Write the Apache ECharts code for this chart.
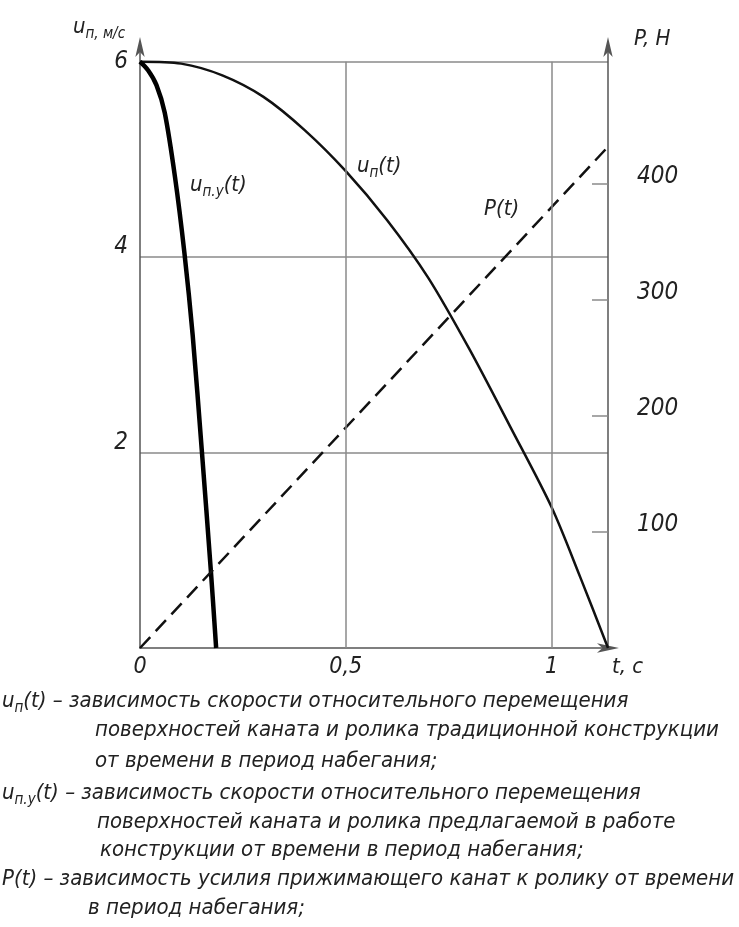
<!DOCTYPE html>
<html>
<head>
<meta charset="utf-8">
<script src="https://cdn.jsdelivr.net/npm/echarts@6/dist/echarts.min.js"></script>
<style>
  html, body { margin: 0; padding: 0; background: #fff; }
  #main { width: 739px; height: 927px; }
</style>
</head>
<body>
<div id="main"></div>
<script>
// данные
var tEnd = 1.137;
var unPoints = [
  [0, 6], [0.1, 5.98], [0.2, 5.86], [0.3, 5.64], [0.4, 5.3], [0.5, 4.88],
  [0.6, 4.38], [0.7, 3.79], [0.8, 3.06], [0.9, 2.26], [1.0, 1.44], [1.07, 0.72], [1.137, 0]
];
var unyPoints = [
  [0, 6], [0.02, 5.91], [0.04, 5.76], [0.06, 5.48], [0.085, 4.82],
  [0.108, 4.04], [0.128, 3.2], [0.15, 2.03], [0.172, 0.8], [0.185, 0]
];
var pPoints = [[0, 0], [1.137, 432]];
var xLabels = [0, 0.5, 1];
var uLabels = [2, 4, 6];
var pLabels = [100, 200, 300, 400];
var vGrid = [0.5, 1];

var FONT = '"DejaVu Sans Condensed", "DejaVu Sans", sans-serif';
var FS = 22;
var INK = '#222';
var GRID = '#8a8a8a';

var rich = {
  m: { fontFamily: FONT, fontStyle: 'italic', fontSize: FS, color: INK, verticalAlign: 'top' },
  s: { fontFamily: FONT, fontStyle: 'italic', fontSize: 15, color: INK, verticalAlign: 'top', padding: [11, 0, 0, 0] }
};

function label(x, y, text) {
  return {
    type: 'text', left: x, top: y,
    style: { text: text, rich: rich, font: 'italic ' + FS + 'px ' + FONT, fill: INK }
  };
}

var notes = [
  [2, 690, '{m|u}{s|п}{m|(t) – зависимость скорости относительного перемещения}'],
  [95, 719, '{m|поверхностей каната и ролика традиционной конструкции}'],
  [95, 750, '{m|от времени в период набегания;}'],
  [2, 782, '{m|u}{s|п.у}{m|(t) – зависимость скорости относительного перемещения}'],
  [97, 811, '{m|поверхностей каната и ролика предлагаемой в работе}'],
  [100, 839, '{m|конструкции от времени в период набегания;}'],
  [2, 868, '{m|P(t) – зависимость усилия прижимающего канат к ролику от времени}'],
  [88, 897, '{m|в период набегания;}']
];

var chart = echarts.init(document.getElementById('main'));

var option = {
  backgroundColor: '#fff',
  animation: false,
  grid: { left: 140, right: 131, top: 47, bottom: 279 },
  xAxis: {
    type: 'value', min: 0, max: tEnd, interval: 0.5,
    axisLine: {
      show: true, symbol: ['none', 'arrow'], symbolSize: [7, 22], symbolOffset: [0, 11],
      lineStyle: { color: '#555', width: 1.5 }
    },
    axisTick: { show: false },
    splitLine: { show: false },
    axisLabel: {
      customValues: xLabels, margin: 8,
      fontFamily: FONT, fontStyle: 'italic', fontSize: 23, color: INK,
      formatter: function (v) { return String(v).replace('.', ','); }
    }
  },
  yAxis: [
    {
      type: 'value', min: 0, max: 6.15, interval: 2, position: 'left',
      axisLine: {
        show: true, symbol: ['none', 'arrow'], symbolSize: [7, 20], symbolOffset: [0, 10],
        lineStyle: { color: '#555', width: 1.5 }
      },
      axisTick: { show: false },
      splitLine: { show: true, showMinLine: false, showMaxLine: false, lineStyle: { color: GRID, width: 1.5 } },
      axisLabel: {
        customValues: uLabels, margin: 12,
        formatter: function (v) { return v === 6 ? '{a|6}' : '{b|' + v + '}'; },
        rich: {
          a: { fontFamily: FONT, fontStyle: 'italic', fontSize: 24, color: INK },
          b: { fontFamily: FONT, fontStyle: 'italic', fontSize: 24, color: INK, padding: [0, 0, 20, 0] }
        }
      }
    },
    {
      type: 'value', min: 0, max: 518, interval: 100, position: 'right',
      axisLine: {
        show: true, symbol: ['none', 'arrow'], symbolSize: [7, 20], symbolOffset: [0, 10],
        lineStyle: { color: '#555', width: 1.5 }
      },
      axisTick: { show: true, inside: true, length: 16, customValues: pLabels, lineStyle: { color: GRID, width: 1.5 } },
      splitLine: { show: false },
      axisLabel: {
        customValues: pLabels, margin: 29,
        formatter: function (v) { return '{b|' + v + '}'; },
        rich: {
          b: { fontFamily: FONT, fontStyle: 'italic', fontSize: 24, color: INK, padding: [0, 0, 15, 0] }
        }
      }
    }
  ],
  series: [
    {
      name: 'un', type: 'line', yAxisIndex: 0, data: unPoints,
      smooth: 0.3, showSymbol: false, silent: true,
      lineStyle: { color: '#111', width: 2.5 },
      markLine: {
        silent: true, symbol: 'none', label: { show: false },
        lineStyle: { color: GRID, width: 1.5, type: 'solid' },
        data: vGrid.map(function (t) { return [{ coord: [t, 0] }, { coord: [t, 6] }]; })
      },
      z: 3
    },
    {
      name: 'uny', type: 'line', yAxisIndex: 0, data: unyPoints,
      smooth: 0.3, showSymbol: false, silent: true,
      lineStyle: { color: '#000', width: 4.5 },
      z: 3
    },
    {
      name: 'P', type: 'line', yAxisIndex: 1, data: pPoints,
      showSymbol: false, silent: true,
      lineStyle: { color: '#111', width: 2.5, type: [15, 8] },
      z: 3
    }
  ],
  graphic: [
    label(73, 16, '{m|u}{s|п, м/с}'),
    label(634, 28, '{m|P, Н}'),
    label(612, 656, '{m|t, с}'),
    label(357, 155, '{m|u}{s|п}{m|(t)}'),
    label(190, 174, '{m|u}{s|п.у}{m|(t)}'),
    label(484, 198, '{m|P(t)}')
  ].concat(notes.map(function (n) { return label(n[0], n[1], n[2]); }))
};

chart.setOption(option);
</script>
</body>
</html>
